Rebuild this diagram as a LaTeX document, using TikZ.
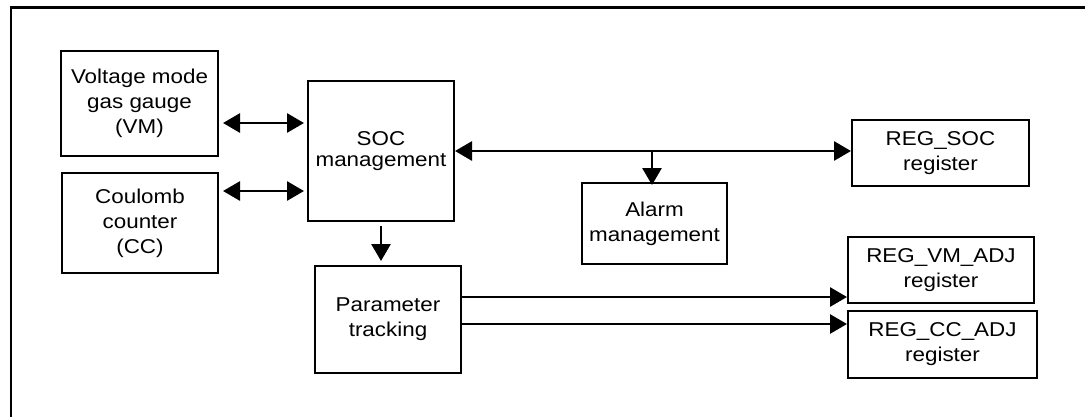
\documentclass[tikz,border=0pt]{standalone}
\usepackage{fontspec}
\setmainfont[FakeStretch=1.12]{Liberation Sans}
\usetikzlibrary{arrows.meta,calc}
\begin{document}
\begin{tikzpicture}[x=1pt,y=1pt,
  blk/.style={draw,line width=2pt,inner sep=0pt,align=center,
    font=\fontsize{20}{25}\selectfont},
  arr/.style={line width=2.8pt,-{Triangle[length=17pt,width=19pt]}},
  darr/.style={line width=2.8pt,{Triangle[length=17pt,width=19pt]}-{Triangle[length=17pt,width=19pt]}}]
\useasboundingbox (0,0) rectangle (1085,-416);
% frame (cut off at right and bottom)
\draw[line width=2.2pt] (11,-430) -- (11,-7.5) -- (1100,-7.5);
% blocks
\node[blk,minimum width=157pt,minimum height=105pt] (VM) at (139.5,-103.5) {Voltage mode\\gas gauge\\(VM)};
\node[blk,minimum width=156pt,minimum height=100pt] (CC) at (140,-223) {Coulomb\\counter\\(CC)};
\node[blk,minimum width=146pt,minimum height=140pt,font=\fontsize{20}{21.5}\selectfont] (SOC) at (381,-151) {SOC\\management};
\node[blk,minimum width=146pt,minimum height=107pt] (PT) at (388,-319.5) {Parameter\\tracking};
\node[blk,minimum width=145pt,minimum height=81pt] (AL) at (654.5,-223.5) {Alarm\\management};
\node[blk,minimum width=177pt,minimum height=66pt] (RS) at (940.5,-153) {REG\_SOC\\register};
\node[blk,minimum width=186pt,minimum height=66pt] (RV) at (941,-270) {REG\_VM\_ADJ\\register};
\node[blk,minimum width=189pt,minimum height=67pt] (RC) at (942.5,-344.5) {REG\_CC\_ADJ\\register};
% connectors
\draw[darr] ([shift={(4,-19.5)}]VM.east) -- ([shift={(-3,28)}]SOC.west);
\draw[darr] ([shift={(4,32)}]CC.east) -- ([shift={(-3,-40)}]SOC.west);
\draw[arr] ([yshift=-4]SOC.south) -- ([yshift=4]SOC.south |- PT.north);
\draw[darr] (SOC.east) -- (SOC.east -| RS.west);
\draw[arr] ([xshift=-2.5]AL.north |- SOC.east) -- ([shift={(-2.5,-3)}]AL.north);
\draw[arr] ([yshift=22.5]PT.east) -- ([yshift=22.5]PT.east -| RV.west);
\draw[arr] ([yshift=-4.5]PT.east) -- ([yshift=-4.5]PT.east -| RC.west);
\end{tikzpicture}
\end{document}
